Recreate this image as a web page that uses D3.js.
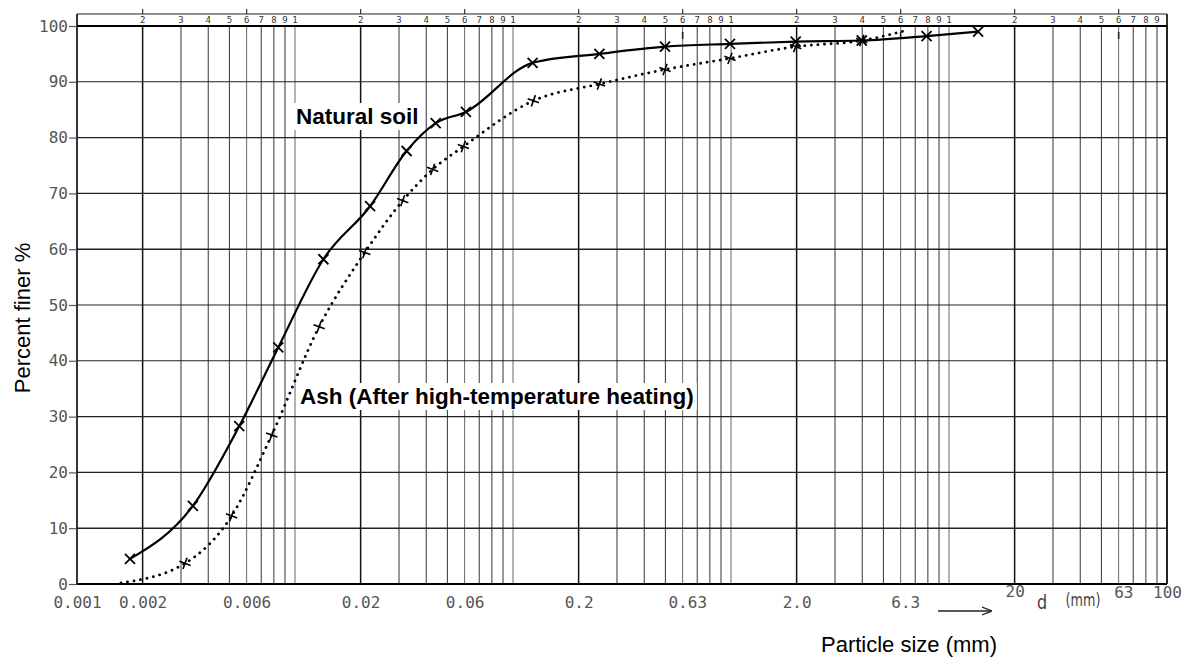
<!DOCTYPE html>
<html><head><meta charset="utf-8">
<script src="https://cdn.jsdelivr.net/npm/d3@7/dist/d3.min.js"></script>
<style>body{margin:0;background:#fff}</style>
</head><body>
<svg id="chart" width="1187" height="660"></svg>
<script>
// ---- data ----
const naturalSize  = [0.00175, 0.0034, 0.00555, 0.00838, 0.0135, 0.0221, 0.0325, 0.0442, 0.0608, 0.123, 0.249, 0.498, 0.989, 1.98, 3.98, 7.89, 13.6];
const naturalFiner = [4.5, 14.0, 28.3, 42.4, 58.2, 67.7, 77.6, 82.6, 84.6, 93.4, 95.0, 96.3, 96.8, 97.2, 97.4, 98.2, 99.0];
const ashSize  = [0.00159, 0.00313, 0.00512, 0.00782, 0.0129, 0.0209, 0.0312, 0.0428, 0.0592, 0.124, 0.249, 0.498, 0.989, 1.98, 3.98, 6.5];
const ashFiner = [0.2, 3.7, 12.2, 26.7, 46.1, 59.4, 68.7, 74.3, 78.4, 86.6, 89.6, 92.2, 94.2, 96.3, 97.4, 99.3];
const ashMarked = [false, true, true, true, true, true, true, true, true, true, true, true, true, true, true, false];
const xTickValues = [0.001, 0.002, 0.006, 0.02, 0.06, 0.2, 0.63, 2.0, 6.3, 20, 63, 100];
const xTickLabels = ["0.001", "0.002", "0.006", "0.02", "0.06", "0.2", "0.63", "2.0", "6.3", "20", "63", "100"];
const yTickValues = [0, 10, 20, 30, 40, 50, 60, 70, 80, 90, 100];
const subDigits = [1, 2, 3, 4, 5, 6, 7, 8, 9];
const decades = [0.001, 0.01, 0.1, 1, 10];

const svg = d3.select("#chart");
const x = d3.scaleLog().domain([0.001, 100]).range([77, 1167]);
const y = d3.scaleLinear().domain([0, 100]).range([584, 26]);
const topY = 14;

const gridVals = [];
decades.forEach(dec => subDigits.forEach(k => { if (!(k === 1 && dec === 0.001)) gridVals.push({v: k * dec, k}); }));
gridVals.push({v: 100, k: 1});

const g = svg.append("g");
g.selectAll("line.vg").data(gridVals).join("line")
  .attr("x1", d => x(d.v)).attr("x2", d => x(d.v))
  .attr("y1", y(100)).attr("y2", y(0))
  .attr("stroke", d => d.k === 2 ? "#111" : (d.k === 6 || d.k === 1) ? "#666" : "#333")
  .attr("stroke-width", d => d.k === 2 ? 1.5 : 1);

g.selectAll("text.td").data(gridVals.filter(d => d.v < 100)).join("text")
  .attr("x", d => x(d.v)).attr("y", 23)
  .attr("text-anchor", "middle")
  .attr("font-family", "DejaVu Sans Mono").attr("font-size", 9).attr("fill", "#333")
  .text(d => d.k);

g.selectAll("line.tt").data(gridVals.filter(d => d.k === 2 || d.k === 6)).join("line")
  .attr("x1", d => x(d.v)).attr("x2", d => x(d.v))
  .attr("y1", topY - 5).attr("y2", topY).attr("stroke", "#333").attr("stroke-width", 1.2);
g.selectAll("line.st").data([0.6, 6, 60]).join("line")
  .attr("x1", d => x(d)).attr("x2", d => x(d))
  .attr("y1", y(100) + 6).attr("y2", y(100) + 13).attr("stroke", "#222").attr("stroke-width", 1.6);

g.selectAll("line.hg").data(yTickValues).join("line")
  .attr("x1", x(0.001)).attr("x2", x(100))
  .attr("y1", d => y(d)).attr("y2", d => y(d))
  .attr("stroke", d => (d === 0 || d === 100) ? "#000" : "#222")
  .attr("stroke-width", d => (d === 0 || d === 100) ? 2 : (d === 10 || d === 60) ? 1.5 : 1.1);

g.append("line").attr("x1", x(0.001)).attr("x2", x(100)).attr("y1", topY).attr("y2", topY).attr("stroke", "#222").attr("stroke-width", 1.2);
g.append("line").attr("x1", x(0.001)).attr("x2", x(0.001)).attr("y1", topY).attr("y2", y(0)).attr("stroke", "#000").attr("stroke-width", 1.6);
g.append("line").attr("x1", x(100)).attr("x2", x(100)).attr("y1", topY).attr("y2", y(0)).attr("stroke", "#000").attr("stroke-width", 1.6);

const yAxis = svg.append("g").attr("transform", `translate(${x(0.001)},0)`)
  .call(d3.axisLeft(y).tickValues(yTickValues).tickSize(8).tickPadding(1));
yAxis.select(".domain").remove();
yAxis.selectAll("line").attr("stroke", "#555").attr("stroke-width", 1.2);
yAxis.selectAll("text").attr("font-family", "DejaVu Sans Mono").attr("font-size", 16).attr("fill", "#555");

const xAxis = svg.append("g").attr("transform", `translate(0,${y(0)})`)
  .call(d3.axisBottom(x).tickValues(xTickValues).tickFormat((d, i) => xTickLabels[i]).tickSize(0).tickPadding(13));
xAxis.select(".domain").remove();
xAxis.selectAll("text").attr("font-family", "DejaVu Sans Mono").attr("font-size", 16).attr("fill", "#555")
  .attr("dy", d => (d === 20) ? "0.1em" : (d === 63 || d === 100) ? "0.2em" : "0.71em")
  .attr("transform", d => (d === 20 || d === 63 || d === 100) ? "translate(0,-2)" : null);

const defs = svg.append("defs");
defs.append("marker").attr("id", "arr").attr("viewBox", "0 0 10 10")
  .attr("refX", 9).attr("refY", 5).attr("markerWidth", 10).attr("markerHeight", 10)
  .attr("markerUnits", "userSpaceOnUse").attr("orient", "auto")
  .append("path").attr("d", "M0,1 L10,5 L0,9").attr("fill", "none").attr("stroke", "#222").attr("stroke-width", 1.3);
svg.append("line").attr("x1", 938).attr("x2", 991).attr("y1", 611).attr("y2", 611)
  .attr("stroke", "#222").attr("stroke-width", 1.3).attr("marker-end", "url(#arr)");
svg.append("text").attr("x", 1042).attr("y", 609).attr("text-anchor", "middle")
  .attr("font-family", "DejaVu Sans").attr("font-size", 20).attr("fill", "#444")
  .attr("transform", "translate(1042,0) scale(0.8,1) translate(-1042,0)").text("d");
svg.append("text").attr("x", 1083).attr("y", 606).attr("text-anchor", "middle")
  .attr("font-family", "DejaVu Sans").attr("font-size", 17).attr("fill", "#444")
  .attr("transform", "translate(1083,0) scale(0.75,1) translate(-1083,0)").text("(mm)");

svg.append("text").attr("x", 909).attr("y", 652).attr("text-anchor", "middle")
  .attr("font-family", "Liberation Sans, Arial").attr("font-size", 22).attr("fill", "#000").text("Particle size (mm)");
svg.append("text").attr("transform", "translate(30,318) rotate(-90)").attr("text-anchor", "middle")
  .attr("font-family", "Liberation Sans, Arial").attr("font-size", 22).attr("fill", "#000").text("Percent finer %");

function label(txt, x0, base) {
  const lg = svg.append("g");
  const t = lg.append("text").attr("x", x0).attr("y", base)
    .attr("font-family", "Liberation Sans, Arial").attr("font-weight", "bold").attr("font-size", 22.5).attr("fill", "#000").text(txt);
  const b = t.node().getBBox();
  lg.insert("rect", ":first-child").attr("x", b.x - 3).attr("y", b.y - 1).attr("width", b.width + 6).attr("height", b.height + 2).attr("fill", "#fff");
}

const natural = naturalSize.map((d, i) => ({d, p: naturalFiner[i]}));
const ash = ashSize.map((d, i) => ({d, p: ashFiner[i], m: ashMarked[i]}));
const line = d3.line().x(d => x(d.d)).y(d => y(d.p)).curve(d3.curveMonotoneX);

label("Natural soil", 296, 124);
label("Ash (After high-temperature heating)", 300, 404);

svg.append("path").datum(natural).attr("d", line).attr("fill", "none").attr("stroke", "#000").attr("stroke-width", 2.2);
svg.append("path").datum(ash).attr("d", line).attr("fill", "none").attr("stroke", "#000")
  .attr("stroke-width", 2.8).attr("stroke-linecap", "round").attr("stroke-dasharray", "0.1 6.5");

const s = 5;
svg.selectAll("path.mx").data(natural).join("path").attr("class", "mx")
  .attr("transform", d => `translate(${x(d.d)},${y(d.p)})`)
  .attr("d", `M${-s},${-s}L${s},${s}M${-s},${s}L${s},${-s}`)
  .attr("stroke", "#000").attr("stroke-width", 1.8).attr("fill", "none");
svg.selectAll("path.mp").data(ash.filter(d => d.m)).join("path").attr("class", "mp")
  .attr("transform", d => `translate(${x(d.d)},${y(d.p)}) rotate(20)`)
  .attr("d", "M-6,0L6,0M0,-6L0,6")
  .attr("stroke", "#000").attr("stroke-width", 1.6).attr("fill", "none");
</script>
</body></html>
